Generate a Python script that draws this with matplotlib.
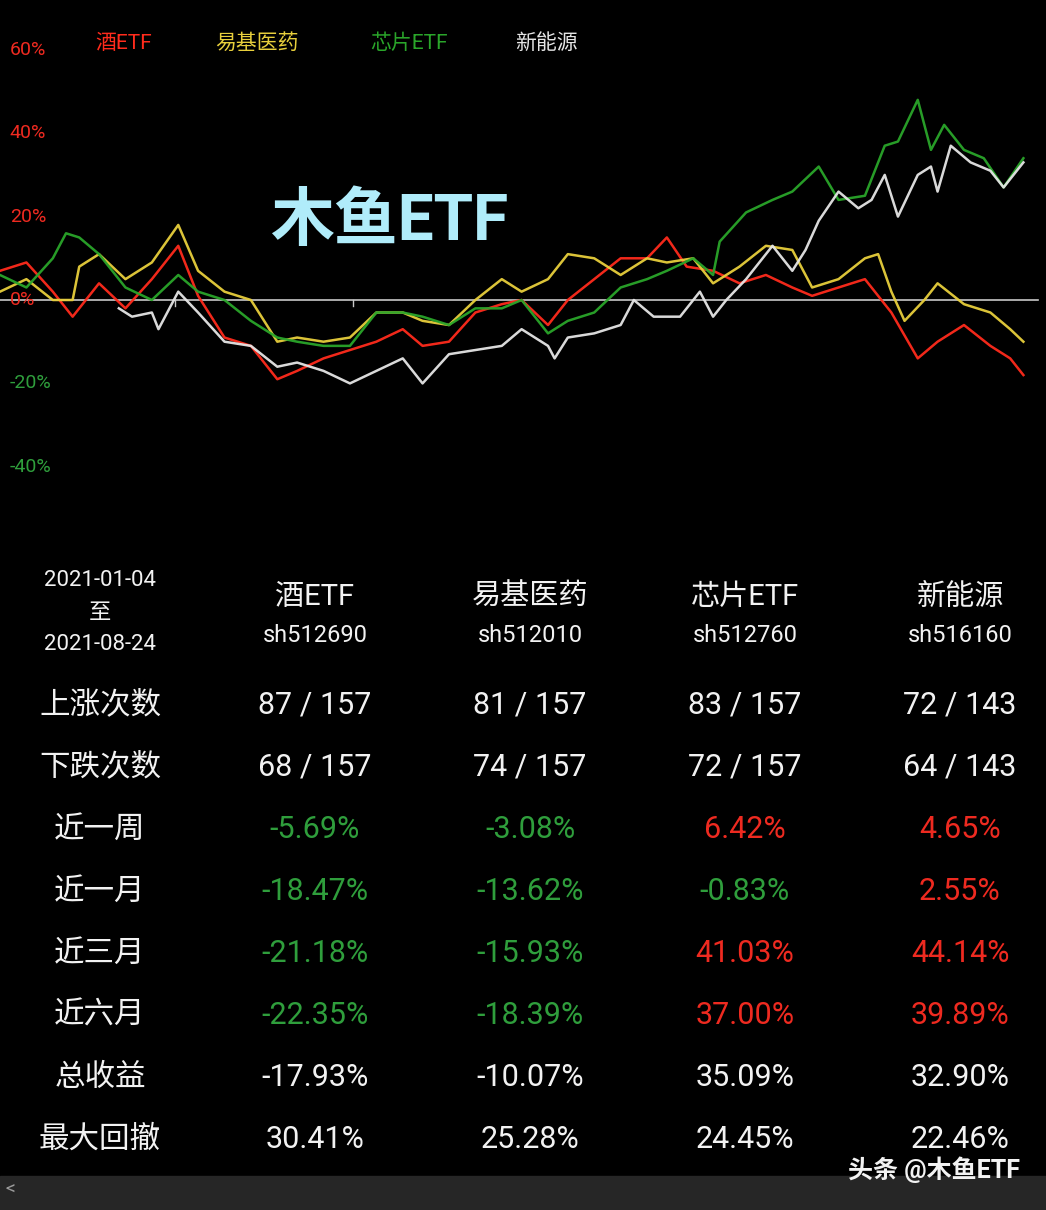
import matplotlib.pyplot as plt
import numpy as np

plt.rcParams['font.family'] = ['Roboto', 'Noto Sans CJK SC', 'DejaVu Sans']

W, H = 1046, 1210

# 2021-01-04 .. 2021-08-24, cumulative return in %, sampled by trading day
jiu_days = [0, 4, 8, 11, 15, 19, 23, 27, 30, 34, 38, 42, 45, 49, 53, 57, 61, 64, 68, 72, 76, 79, 83, 86, 90, 94, 98, 101, 104, 108, 112, 116, 120, 123, 127, 131, 135, 139, 142, 146, 150, 153, 155]
jiu_vals = [7, 9, 2, -4, 4, -2, 5, 13, 1, -9, -11, -19, -17, -14, -12, -10, -7, -11, -10, -3, -1, 0, -6, 0, 5, 10, 10, 15, 8, 7, 4, 6, 3, 1, 3, 5, -3, -14, -10, -6, -11, -14, -18]

yiji_days = [0, 4, 8, 11, 12, 15, 19, 23, 27, 30, 34, 38, 42, 45, 49, 53, 57, 61, 64, 68, 72, 76, 79, 83, 86, 90, 94, 98, 101, 105, 108, 112, 116, 120, 123, 127, 131, 133, 135, 137, 140, 142, 146, 150, 153, 155]
yiji_vals = [2, 5, 0, 0, 8, 11, 5, 9, 18, 7, 2, 0, -10, -9, -10, -9, -3, -3, -5, -6, 0, 5, 2, 5, 11, 10, 6, 10, 9, 10, 4, 8, 13, 12, 3, 5, 10, 11, 2, -5, 0, 4, -1, -3, -7, -10]

chip_days = [0, 4, 8, 10, 12, 15, 19, 23, 27, 30, 34, 38, 42, 45, 49, 53, 57, 61, 64, 68, 72, 76, 79, 83, 86, 90, 94, 98, 101, 105, 108, 109, 113, 117, 120, 124, 127, 131, 134, 136, 139, 141, 143, 146, 149, 152, 155]
chip_vals = [6, 3, 10, 16, 15, 11, 3, 0, 6, 2, 0, -5, -9, -10, -11, -11, -3, -3, -4, -6, -2, -2, 0, -8, -5, -3, 3, 5, 7, 10, 6, 14, 21, 24, 26, 32, 24, 25, 37, 38, 48, 36, 42, 36, 34, 27, 34]

xny_days = [18, 20, 23, 24, 27, 30, 34, 38, 42, 45, 49, 53, 57, 61, 64, 68, 72, 76, 79, 83, 84, 86, 90, 94, 96, 99, 103, 106, 108, 110, 113, 117, 120, 122, 124, 127, 130, 132, 134, 136, 139, 141, 142, 144, 147, 150, 152, 155]
xny_vals = [-2, -4, -3, -7, 2, -3, -10, -11, -16, -15, -17, -20, -17, -14, -20, -13, -12, -11, -7, -11, -14, -9, -8, -6, 0, -4, -4, 2, -4, 0, 5, 13, 7, 12, 19, 26, 22, 24, 30, 20, 30, 32, 26, 37, 33, 31, 27, 33]

series = [('酒ETF', jiu_days, jiu_vals, '#ff2b1c'),
          ('易基医药', yiji_days, yiji_vals, '#e8cf3c'),
          ('芯片ETF', chip_days, chip_vals, '#2aa52a'),
          ('新能源', xny_days, xny_vals, '#e6e6e6')]

y_ticks = [60, 40, 20, 0, -20, -40]

col_names = ['酒ETF', '易基医药', '芯片ETF', '新能源']
col_codes = ['sh512690', 'sh512010', 'sh512760', 'sh516160']
row_labels = ['上涨次数', '下跌次数', '近一周', '近一月', '近三月', '近六月', '总收益', '最大回撤']
table = [
    ['87 / 157', '81 / 157', '83 / 157', '72 / 143'],
    ['68 / 157', '74 / 157', '72 / 157', '64 / 143'],
    ['-5.69%', '-3.08%', '6.42%', '4.65%'],
    ['-18.47%', '-13.62%', '-0.83%', '2.55%'],
    ['-21.18%', '-15.93%', '41.03%', '44.14%'],
    ['-22.35%', '-18.39%', '37.00%', '39.89%'],
    ['-17.93%', '-10.07%', '35.09%', '32.90%'],
    ['30.41%', '25.28%', '24.45%', '22.46%'],
]

RED, GREEN, WHITE = '#ee2a20', '#2f9e3c', '#f2f2f2'

fig = plt.figure(figsize=(W / 100, H / 100), dpi=100, facecolor='black')

def fx(x):
    return x / W

def fy(y):
    return 1 - y / H

# line chart
ax = fig.add_axes([0, fy(520), 1, (520 - 20) / H])
ax.set_facecolor('black')
ax.set_xlim(0, 156 * W / 1030)
ax.set_ylim((300 - 520) / 4.17, (300 - 20) / 4.17)
ax.axis('off')
ax.axhline(0, xmin=0, xmax=1038 / W, color='#c8c8c8', lw=1.2, zorder=1)
for d in [26.5, 53.5]:
    ax.plot([d, d], [0, -1.5], color='#c8c8c8', lw=1)
for name, d, v, c in series:
    ax.plot(d, v, color=c, lw=1.8, alpha=0.95, zorder=3)
for t in y_ticks:
    ax.text(1.5, t, f'{t}%', color=RED if t >= 0 else GREEN, fontsize=14,
            va='center', ha='left', zorder=2)

legend_x = [95, 215, 370, 515]
for (name, d, v, c), x in zip(series, legend_x):
    fig.text(fx(x), fy(43), name, color=c, fontsize=15, va='center', ha='left')

fig.text(fx(270), fy(222), '木鱼ETF', color='#b0ecfa', fontsize=46, fontweight='bold',
         va='center', ha='left')

# table
col_x = [315, 530, 745, 960]
fig.text(fx(100), fy(580), '2021-01-04', color=WHITE, fontsize=16, ha='center', va='center')
fig.text(fx(100), fy(613), '至', color=WHITE, fontsize=16, ha='center', va='center')
fig.text(fx(100), fy(645), '2021-08-24', color=WHITE, fontsize=16, ha='center', va='center')
for x, n, code in zip(col_x, col_names, col_codes):
    fig.text(fx(x), fy(597), n, color=WHITE, fontsize=21, ha='center', va='center')
    fig.text(fx(x), fy(636), code, color=WHITE, fontsize=17, ha='center', va='center')

row_y = [705, 767, 829, 891, 953, 1015, 1077, 1139]
for i, (lab, y) in enumerate(zip(row_labels, row_y)):
    fig.text(fx(100), fy(y), lab, color=WHITE, fontsize=22, ha='center', va='center')
    for x, val in zip(col_x, table[i]):
        if 2 <= i <= 5:
            c = GREEN if val.startswith('-') else RED
        else:
            c = WHITE
        fig.text(fx(x), fy(y), val, color=c, fontsize=22, ha='center', va='center')

# bottom bar
fig.patches.append(plt.Rectangle((0, 0), 1, 34 / H, transform=fig.transFigure,
                                 color='#262626', zorder=0))
fig.text(fx(10), fy(1190), '<', color='#999999', fontsize=14, ha='center', va='center')
fig.text(fx(1020), fy(1170), '头条 @木鱼ETF', color=WHITE, fontsize=18, ha='right',
         va='center', fontweight='bold')

fig.savefig('out.png', dpi=100, facecolor='black')
